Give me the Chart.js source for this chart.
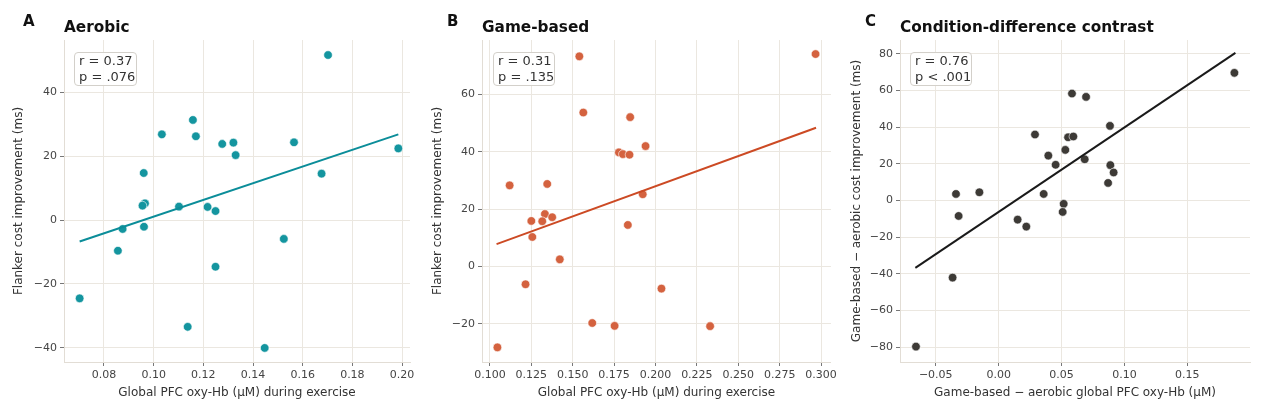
<!DOCTYPE html>
<html>
<head>
<meta charset="utf-8">
<script src="https://cdn.jsdelivr.net/npm/chart.js@4.4.1/dist/chart.umd.min.js"></script>
<style>
  body { margin: 0; background: #fff; font-family: "DejaVu Sans", sans-serif; }
  #wrap { position: relative; width: 1263px; height: 411px; overflow: hidden; }
  .pane { position: absolute; top: 0; }
  .letter { position: absolute; font-weight: bold; font-size: 15px; line-height: 15px; color: #111; }
  .title { position: absolute; font-weight: bold; font-size: 15.3px; line-height: 16px; color: #111; white-space: nowrap; }
  .stats { position: absolute; box-sizing: border-box; height: 34px; border: 1px solid #d3d0ca; border-radius: 4px;
           background: rgba(255,255,255,0.9); font-size: 13px; line-height: 16px; padding: 0 4px; color: #333; white-space: nowrap; }
</style>
</head>
<body>
<div id="wrap">
  <canvas id="cA" class="pane" style="left:0" width="420" height="411"></canvas>
  <canvas id="cB" class="pane" style="left:420px" width="420" height="411"></canvas>
  <canvas id="cC" class="pane" style="left:840px" width="423" height="411"></canvas>

  <div class="letter" style="left:23px;top:14px">A</div>
  <div class="title" style="left:64px;top:19px">Aerobic</div>
  <div class="stats" style="left:74px;top:52px;width:63px">r = 0.37<br>p = .076</div>

  <div class="letter" style="left:447px;top:14px">B</div>
  <div class="title" style="left:482px;top:19px">Game-based</div>
  <div class="stats" style="left:493px;top:52px;width:62px">r = 0.31<br>p = .135</div>

  <div class="letter" style="left:865px;top:14px">C</div>
  <div class="title" style="left:900px;top:19px">Condition-difference contrast</div>
  <div class="stats" style="left:910px;top:52px;width:62px">r = 0.76<br>p &lt; .001</div>
</div>

<script>
// --- data ---
const aerobicX = [0.1702, 0.1158, 0.117, 0.1033, 0.1276, 0.1321, 0.133, 0.1565, 0.1985, 0.1676, 0.096, 0.0965,
                  0.0955, 0.1102, 0.1217, 0.1249, 0.0875, 0.0961, 0.0856, 0.1524, 0.1249, 0.0702, 0.1137, 0.1447];
const aerobicY = [51.6, 31.3, 26.2, 26.8, 23.8, 24.2, 20.3, 24.3, 22.4, 14.5, 14.7, 5.2,
                  4.5, 4.2, 4.1, 2.8, -2.8, -2.1, -9.6, -5.9, -14.6, -24.5, -33.4, -40.0];
const aerobicFitX = [0.0702, 0.1985];
const aerobicFitY = [-6.7, 26.8];

const gameX = [0.154, 0.2967, 0.1564, 0.1847, 0.194, 0.1779, 0.1803, 0.1843, 0.1923, 0.1119, 0.1346, 0.1332,
               0.1376, 0.125, 0.1316, 0.1256, 0.1833, 0.1422, 0.1215, 0.2036, 0.1618, 0.1753, 0.233, 0.1045];
const gameY = [73.3, 74.1, 53.7, 52.1, 42.0, 39.8, 39.2, 39.0, 25.2, 28.3, 28.8, 18.3,
               17.2, 15.9, 15.8, 10.3, 14.5, 2.5, -6.2, -7.7, -19.7, -20.7, -20.8, -28.2];
const gameFitX = [0.104, 0.297];
const gameFitY = [7.8, 48.4];

const diffX = [0.1874, 0.0583, 0.0695, 0.0885, 0.0289, 0.0552, 0.0594, 0.053, 0.0395, 0.0453, 0.0684, 0.0888,
               0.0914, 0.087, -0.0339, -0.0153, 0.0358, 0.0517, 0.0509, -0.0318, 0.0151, 0.022, -0.0366, -0.0657];
const diffY = [69.6, 58.3, 56.5, 40.7, 36.0, 34.5, 34.9, 27.6, 24.5, 19.5, 22.5, 19.3,
               15.3, 9.6, 3.6, 4.5, 3.6, -1.8, -6.2, -8.4, -10.4, -14.2, -42.0, -79.6];
const diffFitX = [-0.0662, 0.1882];
const diffFitY = [-36.7, 80.5];

const xLabelA = 'Global PFC oxy-Hb (\u03bcM) during exercise';
const yLabelA = 'Flanker cost improvement (ms)';
const xLabelC = 'Game-based \u2212 aerobic global PFC oxy-Hb (\u03bcM)';
const yLabelC = 'Game-based \u2212 aerobic cost improvement (ms)';

function pts(xs, ys) { return xs.map((x, i) => ({x: x, y: ys[i]})); }
function minus(s) { return String(s).replace('-', '\u2212'); }

const gridCol = '#ebe7e0';
const tickFont = {family: 'DejaVu Sans', size: 11};
const titleFont = {family: 'DejaVu Sans', size: 12};

function makeChart(id, o) {
  new Chart(document.getElementById(id), {
    type: 'scatter',
    data: {
      datasets: [
        { type: 'line', data: pts(o.fitX, o.fitY), borderColor: o.lineCol, borderWidth: 2,
          pointRadius: 0, fill: false, tension: 0 },
        { data: pts(o.xs, o.ys), backgroundColor: o.dotCol, borderColor: '#ffffff',
          borderWidth: 0.6, pointRadius: 4.3 }
      ]
    },
    options: {
      responsive: false,
      animation: false,
      layout: { padding: { left: 0, top: 40, right: o.padR, bottom: 0 } },
      plugins: { legend: { display: false }, tooltip: { enabled: false } },
      scales: {
        x: {
          type: 'linear', min: o.xMin, max: o.xMax,
          afterFit: s => { s.height = 49; },
          grid: { color: gridCol, tickColor: '#777', tickLength: 4 },
          border: { color: '#e2ddd5' },
          ticks: { stepSize: o.xStep, includeBounds: false, autoSkip: false, maxRotation: 0, padding: 3,
                   color: '#444', font: tickFont,
                   callback: v => minus((Math.abs(v) < 1e-9 ? 0 : v).toFixed(o.xDec)) },
          title: { display: true, text: o.xLabel, color: '#333', font: titleFont, padding: { top: 0, bottom: 11 } }
        },
        y: {
          type: 'linear', min: o.yMin, max: o.yMax,
          afterFit: s => { s.width = o.yW; },
          grid: { color: gridCol, tickColor: '#777', tickLength: 4 },
          border: { color: '#e2ddd5' },
          ticks: { stepSize: o.yStep, includeBounds: false, autoSkip: false, padding: 3,
                   color: '#444', font: tickFont,
                   callback: v => minus(Math.round(v)) },
          title: { display: true, text: o.yLabel, color: '#333', font: titleFont, padding: { top: o.yTitlePad, bottom: 4 } }
        }
      }
    }
  });
}

makeChart('cA', { xs: aerobicX, ys: aerobicY, fitX: aerobicFitX, fitY: aerobicFitY,
  dotCol: '#14959f', lineCol: '#0b8d99', xMin: 0.0639, xMax: 0.2032, xStep: 0.02, xDec: 2,
  yMin: -44.4, yMax: 56.3, yStep: 20, yW: 64, padR: 10, yTitlePad: 12, xLabel: xLabelA, yLabel: yLabelA });

makeChart('cB', { xs: gameX, ys: gameY, fitX: gameFitX, fitY: gameFitY,
  dotCol: '#d4623f', lineCol: '#cc4a24', xMin: 0.0952, xMax: 0.306, xStep: 0.025, xDec: 3,
  yMin: -33.3, yMax: 79, yStep: 20, yW: 62, padR: 8, yTitlePad: 11, xLabel: xLabelA, yLabel: yLabelA });

makeChart('cC', { xs: diffX, ys: diffY, fitX: diffFitX, fitY: diffFitY,
  dotCol: '#3d3a36', lineCol: '#1a1a1a', xMin: -0.0784, xMax: 0.1998, xStep: 0.05, xDec: 2,
  yMin: -88, yMax: 87.5, yStep: 20, yW: 60, padR: 13, yTitlePad: 10, xLabel: xLabelC, yLabel: yLabelC });
</script>
</body>
</html>
